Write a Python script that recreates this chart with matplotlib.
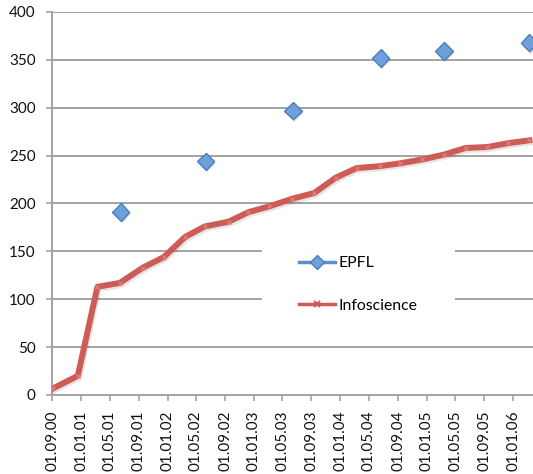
import datetime as dt
import matplotlib
matplotlib.use("Agg")
import matplotlib.pyplot as plt
import matplotlib.dates as mdates
import matplotlib.patheffects as pe
from matplotlib.lines import Line2D
from matplotlib.patches import Rectangle

# Data
infoscience_dates = [
    "2000-09-05", "2000-12-18", "2001-03-11", "2001-06-13", "2001-09-19",
    "2001-12-16", "2002-03-16", "2002-06-07", "2002-09-16", "2002-12-09",
    "2003-03-07", "2003-06-12", "2003-09-13", "2003-12-13", "2004-03-10",
    "2004-06-16", "2004-09-10", "2004-12-12", "2005-03-13", "2005-06-13",
    "2005-09-13", "2005-12-10", "2006-03-10",
]
infoscience_values = [7, 20, 113, 117, 133, 144, 165, 176, 181, 191, 197, 205,
                      211, 227, 237, 239, 242, 246, 251, 258, 259, 263, 266]

epfl_dates = ["2001-06-17", "2002-06-11", "2003-06-15", "2004-06-19",
              "2005-03-13", "2006-03-10"]
epfl_values = [191, 244, 297, 352, 359, 368]

x_start = "2000-09-01"
x_end = "2006-03-25"
y_ticks = [0, 50, 100, 150, 200, 250, 300, 350, 400]

RED = "#cd5c57"
BLUE_FACE = "#6fa0dc"
BLUE_EDGE = "#4a7ebb"
GRID = "#a3a3a3"


def to_dates(values):
    return [dt.datetime.strptime(v, "%Y-%m-%d") for v in values]


plt.rcParams["font.family"] = ["Lato", "DejaVu Sans"]
plt.rcParams["font.size"] = 11

fig = plt.figure(figsize=(5.33, 4.74), dpi=100)
ax = fig.add_axes([0.098, 0.1667, 0.902, 0.808])

line_shadow = [pe.SimpleLineShadow(offset=(1, -1.5), alpha=0.1), pe.Normal()]
marker_shadow = [pe.SimplePatchShadow(offset=(1, -1.5), alpha=0.2), pe.Normal()]

ax.plot(to_dates(infoscience_dates), infoscience_values, color=RED, lw=4.3,
        solid_joinstyle="round", zorder=3, path_effects=line_shadow)
ax.plot(to_dates(infoscience_dates), infoscience_values, linestyle="none",
        marker="x", markersize=3, markeredgewidth=1, markeredgecolor="#e07a74",
        zorder=3)
ax.plot(to_dates(epfl_dates), epfl_values, linestyle="none", marker="D",
        markersize=9, markerfacecolor=BLUE_FACE, markeredgecolor=BLUE_EDGE,
        markeredgewidth=1, zorder=4, clip_on=False, path_effects=marker_shadow)

ax.set_xlim(to_dates([x_start])[0], to_dates([x_end])[0])
ax.set_ylim(y_ticks[0], y_ticks[-1])
ax.set_yticks(y_ticks)
ax.xaxis.set_major_locator(mdates.MonthLocator(bymonth=[1, 5, 9]))
ax.xaxis.set_major_formatter(mdates.DateFormatter("%d.%m.%y"))
plt.setp(ax.get_xticklabels(), rotation=90, va="top", ha="center")

ax.yaxis.grid(True, color=GRID, lw=1.4)
ax.set_axisbelow(True)
for side in ("top", "right"):
    ax.spines[side].set_visible(False)
for side in ("left", "bottom"):
    ax.spines[side].set_color(GRID)
    ax.spines[side].set_linewidth(1.4)
ax.tick_params(axis="both", color=GRID, width=1.2, length=4, labelcolor="#111111")
ax.tick_params(axis="y", pad=8)
ax.tick_params(axis="x", pad=7)

# white legend box covering the gridlines, like the Excel legend
ax.add_patch(Rectangle((0.436, 0.18), 0.402, 0.26, transform=ax.transAxes,
                       facecolor="white", edgecolor="none", zorder=2))

handles = [
    Line2D([], [], color="#5b8fd0", lw=2.5, marker="D", markersize=7,
           markerfacecolor=BLUE_FACE, markeredgecolor=BLUE_EDGE),
    Line2D([], [], color=RED, lw=2.5, marker="x", markersize=5,
           markeredgecolor=RED, markeredgewidth=1.5),
]
leg = ax.legend(handles, ["EPFL", "Infoscience"], loc="upper left",
                bbox_to_anchor=(0.513, 0.362), frameon=False, borderpad=0,
                borderaxespad=0, handlelength=2.3, handletextpad=0.2,
                labelspacing=1.8, fontsize=11.3)
leg.set_zorder(5)

fig.savefig("out.png", dpi=100)
